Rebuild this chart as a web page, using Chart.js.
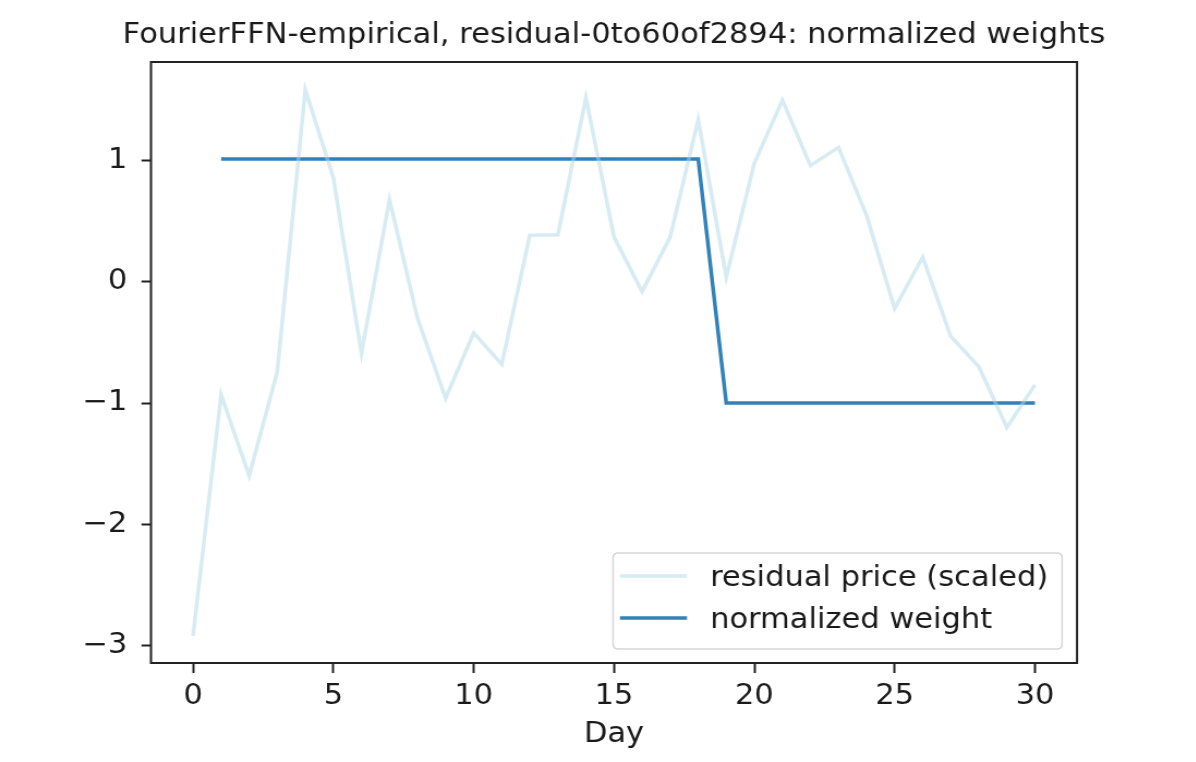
<!DOCTYPE html>
<html>
<head>
<meta charset="utf-8">
<style>
  html, body { margin: 0; padding: 0; background: #ffffff; overflow: hidden; }
  #wrap { width: 1196px; height: 762px; position: relative; overflow: hidden; }
  #c { position: absolute; left: 0; top: 0; transform-origin: 0 0; transform: scaleX(1.09); }
</style>
<script src="https://cdn.jsdelivr.net/npm/chart.js@4/dist/chart.umd.min.js"></script>
</head>
<body>
<div id="wrap"><canvas id="c" width="1097" height="762"></canvas></div>
<script>
const chartTitle = "FourierFFN-empirical, residual-0to60of2894: normalized weights";
const xAxisTitle = "Day";
const days = [0,1,2,3,4,5,6,7,8,9,10,11,12,13,14,15,16,17,18,19,20,21,22,23,24,25,26,27,28,29,30];
const residualPrice = [-2.92, -0.93, -1.60, -0.74, 1.585, 0.86, -0.59, 0.68, -0.30, -0.96, -0.42, -0.68, 0.385, 0.39, 1.52, 0.37, -0.08, 0.37, 1.34, 0.04, 0.98, 1.50, 0.96, 1.11, 0.55, -0.22, 0.205, -0.45, -0.70, -1.20, -0.85];
const normalizedWeight = [null, 1.015, 1.015, 1.015, 1.015, 1.015, 1.015, 1.015, 1.015, 1.015, 1.015, 1.015, 1.015, 1.015, 1.015, 1.015, 1.015, 1.015, 1.015, -1.0, -1.0, -1.0, -1.0, -1.0, -1.0, -1.0, -1.0, -1.0, -1.0, -1.0, -1.0];
const xTicks = [0, 5, 10, 15, 20, 25, 30];
const yTicks = [-3, -2, -1, 0, 1];
const seriesLabels = ["residual price (scaled)", "normalized weight"];

const FONT = "'DejaVu Sans', sans-serif";
const FS = 28;
const residualColor = "rgba(173,216,230,0.5)";
const weightColor = "rgba(31,119,180,0.92)";
const minus = s => String(s).replace('-', '\u2212');

const frame = {
  id: 'frame',
  afterDraw(chart) {
    const ctx = chart.ctx, a = chart.chartArea;
    ctx.save();
    ctx.strokeStyle = '#222222';
    ctx.lineWidth = 2;
    ctx.strokeRect(a.left, a.top, a.right - a.left, a.bottom - a.top);
    ctx.fillStyle = '#1a1a1a';
    ctx.font = FS + "px " + FONT;
    ctx.textAlign = 'center';
    ctx.textBaseline = 'alphabetic';
    ctx.fillText(chartTitle, (a.left + a.right) / 2, 43);
    ctx.fillText(xAxisTitle, (a.left + a.right) / 2, 742);
    // legend
    const bx = 562.4, by = 553, bw = 412, bh = 96, r = 5;
    ctx.beginPath();
    ctx.moveTo(bx + r, by);
    ctx.lineTo(bx + bw - r, by); ctx.quadraticCurveTo(bx + bw, by, bx + bw, by + r);
    ctx.lineTo(bx + bw, by + bh - r); ctx.quadraticCurveTo(bx + bw, by + bh, bx + bw - r, by + bh);
    ctx.lineTo(bx + r, by + bh); ctx.quadraticCurveTo(bx, by + bh, bx, by + bh - r);
    ctx.lineTo(bx, by + r); ctx.quadraticCurveTo(bx, by, bx + r, by);
    ctx.closePath();
    ctx.fillStyle = 'rgba(255,255,255,0.8)';
    ctx.fill();
    ctx.strokeStyle = '#d6d6d6';
    ctx.lineWidth = 1.5;
    ctx.stroke();
    const rows = [576, 618];
    const bases = [585.5, 628];
    chart.data.datasets.forEach((ds, i) => {
      ctx.strokeStyle = ds.borderColor;
      ctx.lineWidth = ds.borderWidth;
      ctx.beginPath();
      ctx.moveTo(568.8, rows[i]);
      ctx.lineTo(630.3, rows[i]);
      ctx.stroke();
      ctx.fillStyle = '#1a1a1a';
      ctx.textAlign = 'left';
      ctx.textBaseline = 'alphabetic';
      ctx.fillText(ds.label, 651.4, bases[i]);
    });
    ctx.restore();
  }
};

new Chart(document.getElementById('c'), {
  type: 'line',
  data: {
    datasets: [
      {
        label: seriesLabels[0],
        data: days.map((d, i) => ({ x: d, y: residualPrice[i] })),
        borderColor: residualColor,
        borderWidth: 3.5,
        pointRadius: 0,
        tension: 0,
        fill: false
      },
      {
        label: seriesLabels[1],
        data: days.map((d, i) => ({ x: d, y: normalizedWeight[i] })),
        borderColor: weightColor,
        borderWidth: 3.5,
        pointRadius: 0,
        tension: 0,
        fill: false,
        spanGaps: false
      }
    ]
  },
  options: {
    responsive: false,
    animation: false,
    devicePixelRatio: 1,
    layout: { padding: { top: 62, right: 108.9, left: 0, bottom: 0 } },
    plugins: {
      legend: { display: false },
      title: { display: false },
      tooltip: { enabled: false }
    },
    scales: {
      x: {
        type: 'linear',
        min: -1.5,
        max: 31.5,
        afterBuildTicks: s => { s.ticks = xTicks.map(v => ({ value: v })); },
        afterFit: s => { s.height = 99; },
        grid: { drawOnChartArea: false, drawTicks: true, tickLength: 10, tickWidth: 2, color: '#222222' },
        border: { display: false },
        ticks: { color: '#1a1a1a', font: { family: FONT, size: FS }, padding: 7, maxRotation: 0, autoSkip: false,
          callback: v => minus(v) }
      },
      y: {
        type: 'linear',
        min: -3.145,
        max: 1.815,
        afterBuildTicks: s => { s.ticks = yTicks.map(v => ({ value: v })); },
        afterFit: s => { s.width = 138.5; },
        grid: { drawOnChartArea: false, drawTicks: true, tickLength: 8.7, tickWidth: 2, color: '#222222' },
        border: { display: false },
        ticks: { color: '#1a1a1a', font: { family: FONT, size: FS }, padding: 13, autoSkip: false,
          callback: v => minus(v) }
      }
    }
  },
  plugins: [frame]
});
</script>
</body>
</html>
